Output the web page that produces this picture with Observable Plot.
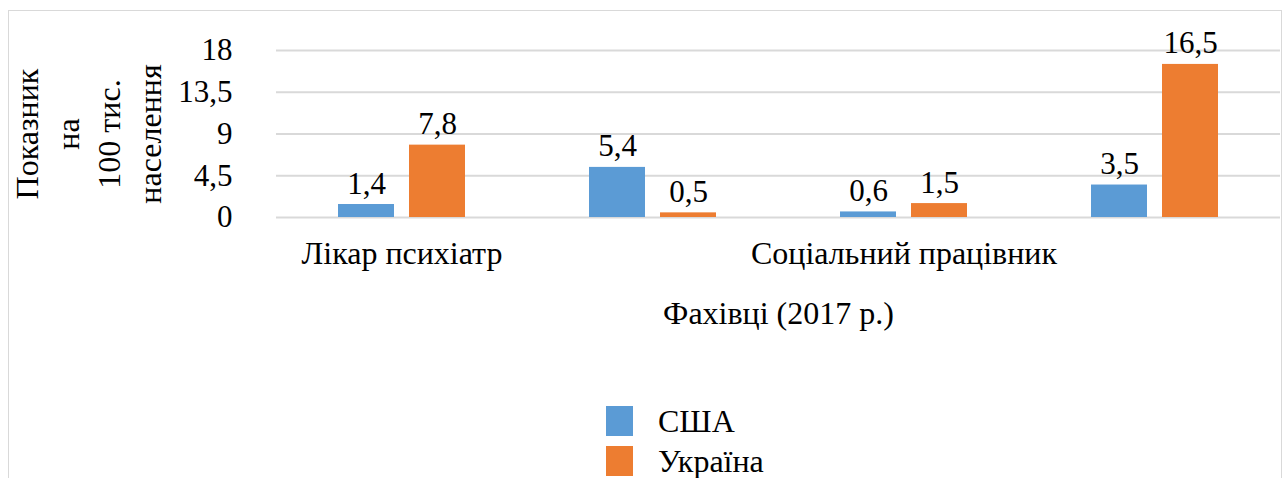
<!DOCTYPE html>
<html><head><meta charset="utf-8">
<script src="https://cdn.jsdelivr.net/npm/d3@7"></script>
<script src="https://cdn.jsdelivr.net/npm/@observablehq/plot@0.6"></script>
<style>
body{margin:0;background:#fff;font-family:"Liberation Serif","DejaVu Serif","Noto Serif",serif;}
#frame{position:absolute;left:8px;top:10px;width:1272px;height:480px;border:1px solid #d9d9d9;border-bottom:none;background:#fff;overflow:hidden;}
#chart{position:absolute;left:0;top:0;}
#legend{position:absolute;left:597px;top:395px;font-size:32px;color:#000;}
.row{display:flex;align-items:center;height:30px;margin-bottom:10px;}
.sw{width:27px;height:30px;margin-right:25px;}
</style></head><body>
<div id="frame"><div id="chart"></div><div id="legend"></div></div>
<script>
const categories = ["Лікар психіатр", "Психолог", "Соціальний працівник", "Медична сестра"];
const shownLabels = ["Лікар психіатр", "Соціальний працівник"];
const series = ["США", "Україна"];
const usa = [1.4, 5.4, 0.6, 3.5];
const ukraine = [7.8, 0.5, 1.5, 16.5];
const yTicks = [0, 4.5, 9, 13.5, 18];
const colors = ["#5B9BD5", "#ED7D31"];
const yTitle = "Показник\nна\n100 тис.\nнаселення";
const xTitle = "Фахівці (2017 р.)";

const data = categories.flatMap((c, i) => [
  {cat: c, series: series[0], value: usa[i]},
  {cat: c, series: series[1], value: ukraine[i]}
]);
const fmt = d => String(d).replace(".", ",");
const FONT = "Liberation Serif, DejaVu Serif, Noto Serif, serif";

const plot = Plot.plot({
  width: 1272, height: 330,
  marginLeft: 266, marginRight: 1, marginTop: 39, marginBottom: 124,
  style: {fontFamily: FONT, fontSize: "32px", color: "#000", background: "transparent"},
  fx: {domain: categories, padding: 0, label: xTitle, labelAnchor: "center", labelOffset: 106,
       tickSize: 0, tickPadding: 24, tickFormat: d => shownLabels.includes(d) ? d : ""},
  x: {domain: series, axis: null, paddingInner: 0.2083, paddingOuter: 0.849},
  y: {domain: [0, 18]},
  color: {domain: series, range: colors},
  marks: [
    Plot.gridY(yTicks, {stroke: "#d9d9d9", strokeOpacity: 1, strokeWidth: 2}),
    Plot.axisY(yTicks, {tickSize: 0, tickPadding: 44, tickFormat: fmt, label: null, fontSize: 31}),
    Plot.barY(data, {fx: "cat", x: "series", y: "value", fill: "series"}),
    Plot.text(data, {fx: "cat", x: "series", y: "value", text: d => fmt(d.value), dy: -11, lineAnchor: "bottom", fill: "#000", fontSize: 31}),
    Plot.text([categories[0]], {fx: d => d, frameAnchor: "left", textAnchor: "middle", text: () => yTitle, rotate: -90, lineHeight: 1.28, dx: -190.5, fill: "#000", fontSize: 32})
  ]
});
document.getElementById("chart").appendChild(plot);

const legend = document.getElementById("legend");
series.forEach((s, i) => {
  const row = document.createElement("div");
  row.className = "row";
  const sw = document.createElement("div");
  sw.className = "sw";
  sw.style.background = colors[i];
  const t = document.createElement("span");
  t.textContent = s;
  row.appendChild(sw); row.appendChild(t);
  legend.appendChild(row);
});
</script>
</body></html>
